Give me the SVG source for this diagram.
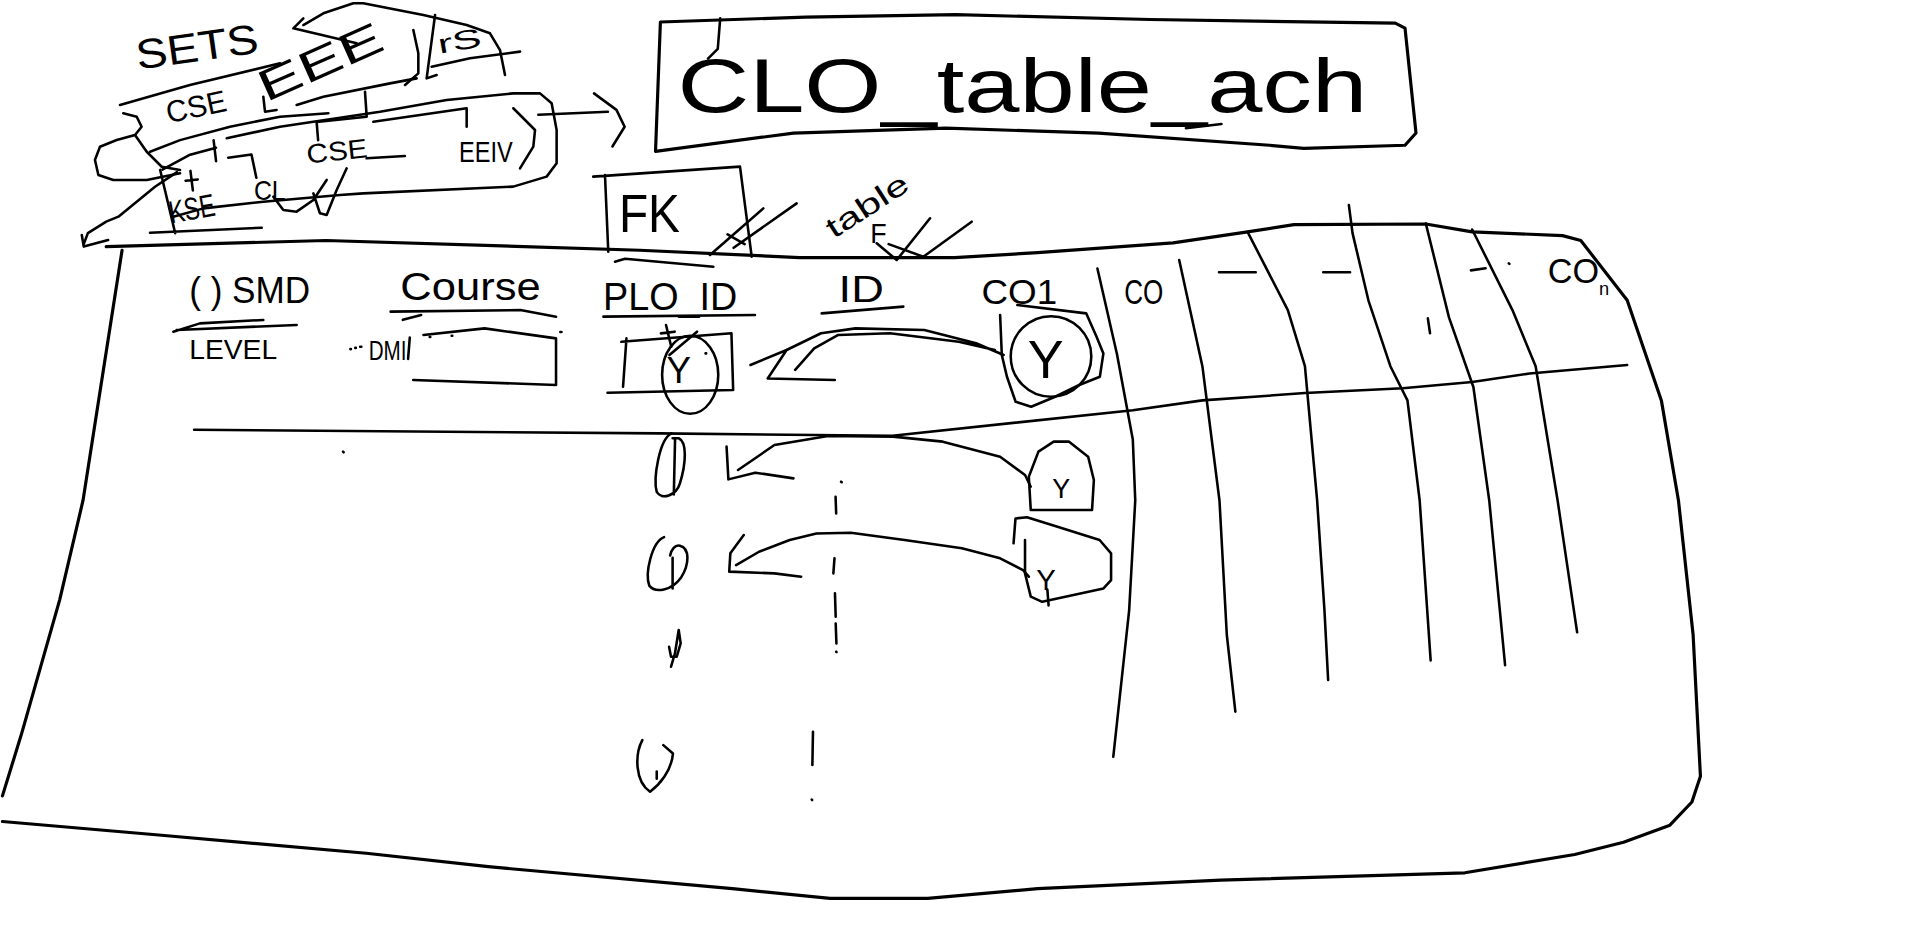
<svg xmlns="http://www.w3.org/2000/svg" width="1914" height="925" viewBox="0 0 1914 925">
<style>
.s{fill:none;stroke:#000;stroke-width:2.1;stroke-linecap:round;stroke-linejoin:round}
.b{fill:none;stroke:#000;stroke-width:2.6;stroke-linecap:round;stroke-linejoin:round}
.t{font-family:"Liberation Sans","DejaVu Sans",sans-serif;fill:#000}
</style>
<rect width="1914" height="925" fill="#fff"/>
<g transform="scale(1.2207)">
<g id="sets-cluster">
<text class="t" x="113" y="57" font-size="34" textLength="101" lengthAdjust="spacingAndGlyphs" transform="rotate(-8 113 57)">SETS</text>
<path class="s" d="M248.5,15 L240.3,23.2 L292.2,35.5 M248.5,20.5 L264.9,10.9 L289.5,2.7 L297.6,2.7 L346.8,12.3 L382.3,20.5 L401.4,27.3 L409.6,41 L413.7,61.4"/>
<path class="s" d="M338.6,24.6 L342.7,43.7 L342.7,60.1 L331.8,69.6 M356.4,12.3 L349.5,64.2 L357.7,61.4 M353.6,54.6 L385,47.8 L426,42.3"/>
<text class="t" x="360" y="44" font-size="22" textLength="36" lengthAdjust="spacingAndGlyphs" transform="rotate(-10 360 44)">rS</text>
<text class="t" x="218" y="84" font-size="36" textLength="108" lengthAdjust="spacingAndGlyphs" transform="rotate(-24 218 84)">EEE</text>
<path class="s" d="M98.3,86 L155.6,69.6 L229.4,51.9"/>
<text class="t" x="138" y="101" font-size="25" textLength="50" lengthAdjust="spacingAndGlyphs" transform="rotate(-12 138 101)">CSE</text>
<path class="s" d="M215.7,79.2 L217.1,91.5 L226.6,90.1 M243,86 L264.9,79.2 L319.5,68.3 L341.3,64.2"/>
<path class="s" d="M299,75.1 L300.4,95.6 L259.4,100 L260.6,114.8"/>
<path class="s" d="M122.9,124.3 L147.5,114.8 L188.4,103.8 L229.4,95.6 L269,92.8"/>
<path class="s" d="M101,92.8 L112,95.6 L116,103.8 L110.6,110.6 L95.6,114.7 L81.9,120.2 L77.8,131 L80.6,143.4 L92.8,147.5 L120.2,147.5 L147.5,142"/>
<path class="s" d="M110.6,110.6 L120.2,124.3 L132.5,136.6 L147.5,139.3"/>
<path class="s" d="M185.7,113.3 L229.4,103.8 L311.3,91.5 L365.9,81.9 L420.5,76.5 L442.4,76.5 L451.9,84.6 L456,106.5 L456,133.8 L447.8,144.7 L420.5,152.9 L297.6,158.4 L278.5,159.7 L215.7,165.2 L166.6,170.7 L142,177.5"/>
<path class="s" d="M305.8,99.7 L382.3,88.7 L382.3,103.8"/>
<path class="s" d="M133,139 L155,127 L177,121 M175,115 L177,132"/>
<text class="t" x="252" y="134" font-size="22" textLength="50" lengthAdjust="spacingAndGlyphs" transform="rotate(-6 252 134)">CSE</text>
<path class="s" d="M300.3,129.7 L331.7,127.8"/>
<text class="t" x="376" y="133" font-size="24" textLength="44" lengthAdjust="spacingAndGlyphs">EEIV</text>
<path class="s" d="M420.5,88.7 L438.3,106.5 L436.9,120.1 L426,137.9"/>
<path class="s" d="M131.2,139.2 L143.5,191 M122.9,190.6 L214.4,186.5"/>
<text class="t" x="140" y="183" font-size="26" textLength="38" lengthAdjust="spacingAndGlyphs" transform="rotate(-10 140 183)">KSE</text>
<path class="s" d="M152,148 L162,147 M156,140 L158,156"/>
<path class="s" d="M187,129.2 L206,126.5 L210,145.6"/>
<text class="t" x="208" y="164" font-size="22" textLength="26" lengthAdjust="spacingAndGlyphs">CL</text>
<path class="s" d="M223.9,161.1 L232.1,172 L243,173.4 L256.7,163.8 L267.6,147.4 M256.7,158.4 L262.1,174.7 L267.6,176.1 L275.8,155.6 L284,137.9"/>
</g>
<g id="clo-title">
<path class="b" d="M541,18 L660,14 L783,12 L942,16 L1143,19 L1151,23 L1160,109 L1151,119 L1068,121.5 L1040,119 L900,109 L775,105 L650,109 L537,124 Z"/>
<path class="s" d="M590,15 L588,40 L580,48 M971.5,105 L1000.6,101.6"/>
<text class="t" x="555" y="92" font-size="62" textLength="565" lengthAdjust="spacingAndGlyphs">CLO_table_ach</text>
</g>
<g id="fk-note">
<path class="s" d="M486,144.7 L606.2,136.5 L615.8,210.3 M495.6,143.4 L498.3,206.2"/>
<text class="t" x="507" y="190" font-size="44" textLength="50" lengthAdjust="spacingAndGlyphs">FK</text>
<path class="s" d="M581.6,208.9 L625.3,170.7 M601,203 L652.6,166.6 M596,192 L610,200"/>
<text class="t" x="683" y="196" font-size="24" textLength="76" lengthAdjust="spacingAndGlyphs" transform="rotate(-33 683 196)">table</text>
<text class="t" x="713" y="199" font-size="22">F</text>
<path class="s" d="M718.2,199.3 L734.6,213 L761.9,178.8 M728,200 L756.4,210.3 L796,181.6"/>
</g>
<g id="table">
<path class="b" d="M87,202 L267,197 L524,205 L655,211 L782,211 L850,207 L961,199 L1022,190 L1060,184 L1168,183.5 L1206,190 L1280,193 L1295,197 L1333,246 L1361,328 L1375,410 L1387,520 L1393,636 L1386,657 L1368,676 L1330,690 L1290,700 L1200,715 L1000,721 L850,728 L760,736 L680,736 L600,728 L400,710 L300,699 L130,684 L2,673"/>
<path class="b" d="M100,205 L68,410 L49,491 L18,600 L2,652"/>
<path class="s" d="M159,352 L540,355 L731,357 L928,336 L985,328 L1069,322 L1149,318 L1206,313 L1253,306 L1333,299"/>
<path class="s" d="M899,220 L915,290 L928,360 L930,410 L925,500 L912,620"/>
<path class="s" d="M966,213 L985,300 L999,410 L1005,520 L1012,583"/>
<path class="s" d="M1022,190 L1055,254 L1069,300 L1079,410 L1085,500 L1088,557"/>
<path class="s" d="M1105,168 L1108,191 L1121,246 L1139,300 L1153,328 L1163,410 L1172,541"/>
<path class="s" d="M1168,183 L1187,260 L1207,317 L1220,410 L1233,545"/>
<path class="s" d="M1206,188 L1239,254 L1258,300 L1276,410 L1292,518"/>
</g>
<g id="header">
<text class="t" x="155" y="248" font-size="30" textLength="99" lengthAdjust="spacingAndGlyphs">( ) SMD</text>
<path class="s" d="M142,271.7 L163.8,264.9 L215.7,262.1 M144.7,270.3 L243,266.2"/>
<text class="t" x="328" y="246" font-size="32" textLength="115" lengthAdjust="spacingAndGlyphs">Course</text>
<path class="s" d="M320,255.3 L426.3,254 L455.5,259.4 M330,262 L345,258"/>
<text class="t" x="494" y="254" font-size="32" textLength="110" lengthAdjust="spacingAndGlyphs">PLO_ID</text>
<path class="s" d="M503.8,214.4 L512,212 L584.4,218.5 M494.3,259.4 L618.5,258"/>
<text class="t" x="687" y="247" font-size="30" textLength="37" lengthAdjust="spacingAndGlyphs">ID</text>
<path class="s" d="M673.1,256.7 L740,251.2"/>
<text class="t" x="804" y="249" font-size="28" textLength="62" lengthAdjust="spacingAndGlyphs">CO1</text>
<text class="t" x="921" y="249" font-size="28" textLength="32" lengthAdjust="spacingAndGlyphs">CO</text>
<path class="s" d="M998.6,223 L1028.7,223 M1084,223 L1106,223 M1205,221.5 L1217,219.8 M1236,215.7 L1236.5,216.2"/>
<text class="t" x="1268" y="232" font-size="28">CO<tspan dy="10" font-size="15">n</tspan></text>
<path class="s" d="M1169.7,260.8 L1171.5,273"/>
</g>
<g id="row-1">
<text class="t" x="155" y="294" font-size="22" textLength="72" lengthAdjust="spacingAndGlyphs">LEVEL</text>
<path class="s" d="M287,286 L287.5,286 M291,285 L291.5,285 M295,284 L296,284"/>
<text class="t" x="302" y="295" font-size="22" textLength="31" lengthAdjust="spacingAndGlyphs">DMI</text>
<path class="s" d="M335.7,276.5 L334.3,294"/>
<path class="s" d="M346.9,274.4 L397,269 L455.5,277.2 L455.5,315.4 L338.5,311.3 M352,276 L352.5,276 M370,275 L370.5,275 M404,270 L404.5,270 M459,272 L460,272"/>
<path class="s" d="M509,280 L599.2,273 L600.6,319.5 L497.7,321.7 M513.2,277.2 L510.4,316.8"/>
<ellipse class="s" cx="565.4" cy="307" rx="23" ry="32"/>
<path class="s" d="M545.6,266.3 L549.9,284 M541.4,273.1 L552.7,271.7 M548.4,290.9 L571,271.7 M578,289.5 L578.5,289.5"/>
<text class="t" x="546" y="314" font-size="30">Y</text>
<circle class="s" cx="861" cy="292" r="33"/>
<path class="s" d="M833.4,249.9 L889.8,256.7 L898.3,275.8 L903.9,289.5 L901,308.6 L884.1,315.4 L864.4,325 L844.7,333.2 L832,329.1 L824.9,308.6 L820.7,290.9 L819.3,258.1"/>
<text class="t" x="842" y="310" font-size="44">Y</text>
<path class="s" d="M281,370 L281.5,370.5"/>
</g>
<g id="row-2">
<path class="s" d="M550,355 C540,360 535,392 538,403 C542,410 554,406 557,396 C562,380 563,362 556,359 L551,359 M553,360 L552,405"/>
<path class="s" d="M844.4,417.8 L894.6,417.8 L896.1,393.2 L891.4,374.1 L875.8,361.8 L863.2,361.8 L850.7,370 L842.8,390.5 Z"/>
<text class="t" x="862" y="408" font-size="22">Y</text>
</g>
<g id="row-3">
<path class="s" d="M544,440 C534,444 528,470 532,480 C537,486 550,484 558,473 C565,462 565,449 557,447 C553,446 550,450 549,455 M551,457 L551,482"/>
<path class="s" d="M830.3,445.1 L831.9,424.7 L841.3,423.8 L866.3,431.5 L900.8,442.4 L910.2,453.3 L910.2,475.2 L904,482 L853.8,493 L844.4,488.8 L839.7,469.7 L839.7,442.4"/>
<text class="t" x="849" y="483" font-size="24">Y</text>
<path class="s" d="M858,483 L859,496"/>
</g>
<g id="row-4">
<path class="s" d="M548.1,529.8 L549.7,538 L554.4,538 L557.6,527.1 L556,516.1 L552.9,535.3 L549.7,546.2"/>
</g>
<g id="row-5">
<path class="s" d="M526.2,606.3 C520,618 520,640 532.5,648.6 C540,643 550,632 551.3,617.2 L543.4,610.4 M538,632 L538,638"/>
</g>
<g id="ellipsis">
<path class="s" d="M689,394.6 L689.5,395 M684.5,406.9 L685,420.6 M683.6,457.4 L682.7,469.7 M684,486 L684.6,505.2 M684.6,510.7 L685.2,527.1 M685,533.9 L685.3,534.2 M666,599.4 L665.5,626.7 M665,655 L665.3,655.4"/>
</g>
<g id="connectors">
<path class="s" d="M441,94 L498,91.5 M486.6,76.5 L505,90 L511.7,103.8 L501.7,120"/>
<path class="s" d="M145,141 L127,153 L97,177.5 L87,181.6 L72,191 L68.6,200 M67,192.5 L68.6,202 L88.6,196.6"/>
<path class="s" d="M614.8,299 L644.4,286.7 L672.6,273 L700.8,269 L757.2,270.3 L799.6,281.2 L822.2,290.8 M651.4,303 L667,285.4 L686.7,274.4 L729,273 L785.4,280 L815,286.7 M644.4,286.7 L628.9,310 L683.9,311.3"/>
<path class="s" d="M844.4,398.7 L839.7,389.1 L819.3,374.1 L772.3,361.8 L731.5,357.7 L678.3,357.2 L634.4,364.6 L604.6,385 M595.2,365.9 L596.7,392.7 L618.7,387.2 L650,391.9"/>
<path class="s" d="M842.8,472.4 L838.1,467 L819.3,457.4 L788,449.2 L741,442.4 L697,436.4 L668.8,437 L646.9,442.4 L621.8,452 L603,462.9 M609.3,438.3 L598.3,453.3 L597.4,468.3 L634.4,469.7 L656.3,472.4"/>
</g>
</g>
</svg>
